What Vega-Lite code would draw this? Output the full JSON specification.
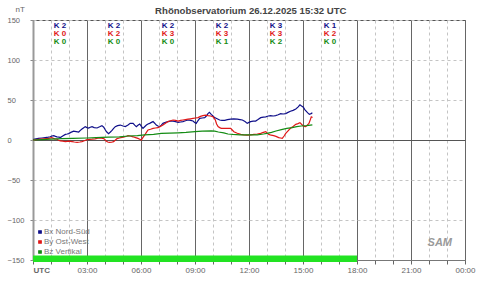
{
  "$schema": "https://vega.github.io/schema/vega-lite/v6.json",
  "width": 432,
  "height": 240,
  "autosize": {"type": "none"},
  "padding": {"left": 33, "top": 20, "right": 15, "bottom": 21},
  "background": "white",
  "config": {"font": "Liberation Sans", "view": {"stroke": "#555", "strokeWidth": 1}},
  "datasets": {
    "coverage": [{"from": 0, "to": 18}],
    "kindex": [
      {"h": 1.5, "series": "Bx Nord-Süd", "label": "K 2"},
      {"h": 1.5, "series": "By Ost-West", "label": "K 0"},
      {"h": 1.5, "series": "Bz Vertikal", "label": "K 0"},
      {"h": 4.5, "series": "Bx Nord-Süd", "label": "K 2"},
      {"h": 4.5, "series": "By Ost-West", "label": "K 2"},
      {"h": 4.5, "series": "Bz Vertikal", "label": "K 0"},
      {"h": 7.5, "series": "Bx Nord-Süd", "label": "K 2"},
      {"h": 7.5, "series": "By Ost-West", "label": "K 3"},
      {"h": 7.5, "series": "Bz Vertikal", "label": "K 0"},
      {"h": 10.5, "series": "Bx Nord-Süd", "label": "K 2"},
      {"h": 10.5, "series": "By Ost-West", "label": "K 3"},
      {"h": 10.5, "series": "Bz Vertikal", "label": "K 1"},
      {"h": 13.5, "series": "Bx Nord-Süd", "label": "K 3"},
      {"h": 13.5, "series": "By Ost-West", "label": "K 3"},
      {"h": 13.5, "series": "Bz Vertikal", "label": "K 2"},
      {"h": 16.5, "series": "Bx Nord-Süd", "label": "K 1"},
      {"h": 16.5, "series": "By Ost-West", "label": "K 2"},
      {"h": 16.5, "series": "Bz Vertikal", "label": "K 0"}
    ],
    "bx": [
      {"h":0.0,"v":0.5},{"h":0.1,"v":1.2},{"h":0.3,"v":2},{"h":0.5,"v":2.5},{"h":0.68,"v":3},{"h":0.85,"v":3.5},{"h":0.96,"v":4},{"h":1.05,"v":5},{"h":1.15,"v":5.5},{"h":1.25,"v":4.5},{"h":1.33,"v":4},{"h":1.45,"v":3.5},{"h":1.52,"v":3},{"h":1.65,"v":5},{"h":1.8,"v":7},{"h":1.9,"v":7.5},{"h":1.98,"v":8},{"h":2.1,"v":9.5},{"h":2.26,"v":11},{"h":2.4,"v":10.5},{"h":2.54,"v":10},{"h":2.63,"v":12},{"h":2.72,"v":13.7},{"h":2.8,"v":15},{"h":2.9,"v":16.7},{"h":3.0,"v":15.5},{"h":3.09,"v":15},{"h":3.18,"v":16},{"h":3.28,"v":16.7},{"h":3.4,"v":15.5},{"h":3.56,"v":15},{"h":3.7,"v":16.5},{"h":3.83,"v":18},{"h":3.93,"v":16},{"h":4.02,"v":12.5},{"h":4.1,"v":10},{"h":4.2,"v":8},{"h":4.3,"v":10},{"h":4.39,"v":12},{"h":4.48,"v":14.5},{"h":4.57,"v":16.7},{"h":4.7,"v":18},{"h":4.85,"v":18.7},{"h":5.0,"v":17.5},{"h":5.13,"v":16.7},{"h":5.28,"v":18.7},{"h":5.4,"v":20.8},{"h":5.56,"v":20.8},{"h":5.65,"v":18.5},{"h":5.74,"v":16.7},{"h":5.83,"v":18.5},{"h":5.93,"v":20},{"h":6.02,"v":17},{"h":6.11,"v":14.6},{"h":6.2,"v":16.5},{"h":6.3,"v":18.7},{"h":6.39,"v":20},{"h":6.48,"v":20.8},{"h":6.58,"v":22},{"h":6.67,"v":23},{"h":6.76,"v":21},{"h":6.85,"v":18.7},{"h":6.94,"v":17.5},{"h":7.04,"v":16.7},{"h":7.13,"v":18.5},{"h":7.22,"v":20.8},{"h":7.36,"v":22},{"h":7.5,"v":23},{"h":7.64,"v":23.5},{"h":7.78,"v":23.7},{"h":7.92,"v":23},{"h":8.06,"v":22},{"h":8.2,"v":22.5},{"h":8.33,"v":23},{"h":8.47,"v":24},{"h":8.61,"v":25},{"h":8.75,"v":24.5},{"h":8.89,"v":23.7},{"h":8.98,"v":22},{"h":9.07,"v":20.8},{"h":9.16,"v":24},{"h":9.26,"v":27},{"h":9.4,"v":27.5},{"h":9.54,"v":27.9},{"h":9.63,"v":30},{"h":9.72,"v":33},{"h":9.8,"v":34.5},{"h":9.9,"v":32},{"h":10.0,"v":30},{"h":10.09,"v":28},{"h":10.23,"v":26.5},{"h":10.37,"v":25},{"h":10.5,"v":24.5},{"h":10.65,"v":24.5},{"h":10.8,"v":25.5},{"h":10.98,"v":26},{"h":11.15,"v":26.5},{"h":11.35,"v":26},{"h":11.5,"v":25.5},{"h":11.63,"v":25},{"h":11.78,"v":23},{"h":11.9,"v":20.8},{"h":12.0,"v":22},{"h":12.09,"v":23},{"h":12.23,"v":23.5},{"h":12.37,"v":23.7},{"h":12.5,"v":25.5},{"h":12.65,"v":27.9},{"h":12.8,"v":28.5},{"h":12.93,"v":29},{"h":13.07,"v":30},{"h":13.2,"v":30.4},{"h":13.35,"v":30},{"h":13.48,"v":30.4},{"h":13.62,"v":31.5},{"h":13.76,"v":33},{"h":13.9,"v":32.5},{"h":14.04,"v":33},{"h":14.17,"v":34.5},{"h":14.3,"v":36},{"h":14.45,"v":37},{"h":14.6,"v":38.7},{"h":14.72,"v":41},{"h":14.83,"v":44},{"h":14.92,"v":42.5},{"h":15.02,"v":41},{"h":15.1,"v":38},{"h":15.2,"v":35.4},{"h":15.28,"v":33.5},{"h":15.35,"v":32},{"h":15.45,"v":33},{"h":15.52,"v":34}
    ],
    "by": [
      {"h":0.0,"v":0},{"h":0.2,"v":0.5},{"h":0.4,"v":1},{"h":0.6,"v":1.5},{"h":0.87,"v":2},{"h":1.04,"v":3},{"h":1.2,"v":1.5},{"h":1.33,"v":1},{"h":1.45,"v":-0.5},{"h":1.52,"v":-1.2},{"h":1.65,"v":-1.5},{"h":1.8,"v":-2},{"h":2.0,"v":-1.5},{"h":2.17,"v":-2},{"h":2.3,"v":-2.5},{"h":2.45,"v":-3},{"h":2.6,"v":-2.5},{"h":2.72,"v":-2},{"h":2.85,"v":-1},{"h":3.0,"v":0.5},{"h":3.14,"v":0.8},{"h":3.28,"v":1},{"h":3.45,"v":1.5},{"h":3.65,"v":2.5},{"h":3.8,"v":2.2},{"h":3.93,"v":1.7},{"h":4.0,"v":0.5},{"h":4.06,"v":-1.2},{"h":4.15,"v":-2.5},{"h":4.24,"v":-3},{"h":4.36,"v":-2.8},{"h":4.48,"v":-2},{"h":4.58,"v":0},{"h":4.67,"v":1.7},{"h":4.8,"v":2.5},{"h":4.94,"v":3.3},{"h":5.07,"v":4},{"h":5.2,"v":4.7},{"h":5.28,"v":5.5},{"h":5.4,"v":5},{"h":5.56,"v":4},{"h":5.7,"v":3},{"h":5.83,"v":2},{"h":5.93,"v":1},{"h":6.02,"v":0},{"h":6.1,"v":3},{"h":6.2,"v":6},{"h":6.3,"v":9.5},{"h":6.39,"v":12.5},{"h":6.53,"v":13.5},{"h":6.67,"v":14.6},{"h":6.8,"v":15},{"h":6.94,"v":15.4},{"h":7.08,"v":17},{"h":7.22,"v":18.7},{"h":7.36,"v":21},{"h":7.5,"v":23},{"h":7.64,"v":24},{"h":7.78,"v":25},{"h":7.92,"v":24.5},{"h":8.06,"v":23.7},{"h":8.2,"v":24.5},{"h":8.33,"v":25},{"h":8.47,"v":25.5},{"h":8.61,"v":26},{"h":8.75,"v":26.5},{"h":8.89,"v":27},{"h":9.03,"v":27.5},{"h":9.17,"v":28},{"h":9.3,"v":29.5},{"h":9.44,"v":30.4},{"h":9.58,"v":31},{"h":9.72,"v":30.4},{"h":9.86,"v":30},{"h":10.0,"v":29},{"h":10.07,"v":27},{"h":10.13,"v":25},{"h":10.2,"v":20},{"h":10.28,"v":16.7},{"h":10.37,"v":15.5},{"h":10.46,"v":14.6},{"h":10.6,"v":14.6},{"h":10.74,"v":14.6},{"h":10.86,"v":14.6},{"h":10.98,"v":14.6},{"h":11.07,"v":12.5},{"h":11.16,"v":10.4},{"h":11.35,"v":8.5},{"h":11.54,"v":7},{"h":11.7,"v":6.5},{"h":11.9,"v":6},{"h":12.1,"v":6.5},{"h":12.28,"v":7},{"h":12.46,"v":7.5},{"h":12.65,"v":8.3},{"h":12.8,"v":9.5},{"h":12.93,"v":10.4},{"h":13.02,"v":8.5},{"h":13.1,"v":7},{"h":13.23,"v":6},{"h":13.37,"v":5.4},{"h":13.5,"v":4.5},{"h":13.65,"v":3},{"h":13.75,"v":2.5},{"h":13.85,"v":2},{"h":13.95,"v":5},{"h":14.04,"v":8.3},{"h":14.17,"v":11.5},{"h":14.3,"v":14.6},{"h":14.45,"v":17},{"h":14.6,"v":19.6},{"h":14.72,"v":20.5},{"h":14.83,"v":21.7},{"h":14.96,"v":18.7},{"h":15.06,"v":17},{"h":15.15,"v":16.7},{"h":15.25,"v":19},{"h":15.33,"v":20.8},{"h":15.4,"v":25},{"h":15.46,"v":29},{"h":15.53,"v":28}
    ],
    "bz": [
      {"h":0,"v":0},{"h":0.5,"v":0.5},{"h":1.0,"v":1},{"h":1.6,"v":1.7},{"h":2.2,"v":2},{"h":3.0,"v":2.5},{"h":3.5,"v":3},{"h":4.2,"v":3.5},{"h":4.8,"v":4},{"h":5.3,"v":5},{"h":5.8,"v":5.5},{"h":6.2,"v":6.5},{"h":6.7,"v":7},{"h":7.13,"v":8.3},{"h":7.6,"v":8.7},{"h":8.06,"v":9},{"h":8.5,"v":9.5},{"h":9.0,"v":10.4},{"h":9.4,"v":11},{"h":9.9,"v":11.5},{"h":10.1,"v":11},{"h":10.3,"v":10},{"h":10.6,"v":9},{"h":10.83,"v":7.5},{"h":11.1,"v":7},{"h":11.5,"v":6.5},{"h":12.0,"v":6.5},{"h":12.46,"v":6.5},{"h":12.8,"v":7.5},{"h":13.0,"v":8.3},{"h":13.25,"v":9.5},{"h":13.5,"v":11.3},{"h":13.8,"v":13},{"h":14.1,"v":14.6},{"h":14.4,"v":15.5},{"h":14.65,"v":16.7},{"h":14.9,"v":17.5},{"h":15.2,"v":18},{"h":15.52,"v":19}
    ]
  },
  "layer": [
    {
      "data": {"name": "coverage"},
      "mark": {"type": "rect", "color": "#22e322", "clip": false},
      "encoding": {
        "x": {
          "field": "from", "type": "quantitative",
          "scale": {"domain": [0, 24], "nice": false},
          "axis": {
            "values": [0,1,2,3,4,5,6,7,8,9,10,11,12,13,14,15,16,17,18,19,20,21,22,23,24],
            "tickCount": 30,
            "title": null,
            "labelExpr": "datum.value == 0 ? 'UTC' : (datum.value % 3 == 0 ? (datum.value == 24 ? '00' : (datum.value < 10 ? '0' : '') + datum.value) + ':00' : '')",
            "labelFontSize": 8,
            "labelColor": "#666",
            "labelFontWeight": {"condition": {"test": "datum.value == 0", "value": "bold"}, "value": "normal"},
            "labelAlign": {"condition": {"test": "datum.value == 0", "value": "left"}, "value": "center"},
            "labelFlush": false,
            "labelBound": false,
            "labelOverlap": false,
            "labelPadding": 2,
            "tickSize": 4,
            "tickColor": "#666",
            "domainColor": "#777",
            "grid": true,
            "gridColor": {"condition": {"test": "datum.value % 3 == 0", "value": "#666"}, "value": "#c4c4c4"},
            "gridDash": {"condition": {"test": "datum.value % 3 == 0", "value": []}, "value": [3, 3]}
          }
        },
        "x2": {"field": "to"},
        "y": {
          "datum": -144.5, "type": "quantitative",
          "scale": {"domain": [-150, 150], "nice": false},
          "axis": {
            "values": [-150, -100, -50, 0, 50, 100, 150],
            "tickCount": 10,
            "title": "nT",
            "titleAngle": 0,
            "titleX": -18,
            "titleY": -9,
            "titleAlign": "left",
            "titleBaseline": "alphabetic",
            "titleFontSize": 8,
            "titleFontWeight": "normal",
            "titleColor": "#666",
            "labelFontSize": 7.5,
            "labelColor": "#666",
            "labelAlign": "left",
            "labelPadding": 23,
            "labelBound": false,
            "labelFlush": false,
            "labelOverlap": false,
            "tickSize": 3,
            "tickColor": "#888",
            "domainColor": "#999",
            "domainWidth": 2,
            "grid": true,
            "gridColor": {"condition": {"test": "datum.value == 0", "value": "#555"}, "value": "#c4c4c4"},
            "gridDash": {"condition": {"test": "datum.value == 0", "value": []}, "value": [3, 3]}
          }
        },
        "y2": {"datum": -152.5}
      }
    },
    {
      "data": {"name": "bx"},
      "mark": {"type": "line", "strokeWidth": 1.2},
      "encoding": {
        "x": {"field": "h", "type": "quantitative"},
        "y": {"field": "v", "type": "quantitative"},
        "color": {
          "datum": "Bx Nord-Süd",
          "type": "nominal",
          "scale": {"domain": ["Bx Nord-Süd", "By Ost-West", "Bz Vertikal"], "range": ["#10108a", "#e01818", "#148c14"]},
          "legend": {"orient": "none", "legendX": 3, "legendY": 208, "title": null, "symbolType": "square", "symbolSize": 5, "symbolStrokeWidth": 1.5, "labelFontSize": 8, "labelColor": "#777", "labelOffset": 0, "rowPadding": 0, "padding": 0}
        }
      }
    },
    {
      "data": {"name": "by"},
      "mark": {"type": "line", "strokeWidth": 1.2},
      "encoding": {
        "x": {"field": "h", "type": "quantitative"},
        "y": {"field": "v", "type": "quantitative"},
        "color": {"datum": "By Ost-West", "type": "nominal"}
      }
    },
    {
      "data": {"name": "bz"},
      "mark": {"type": "line", "strokeWidth": 1.2},
      "encoding": {
        "x": {"field": "h", "type": "quantitative"},
        "y": {"field": "v", "type": "quantitative"},
        "color": {"datum": "Bz Vertikal", "type": "nominal"}
      }
    },
    {
      "data": {"name": "kindex"},
      "transform": [{"filter": "datum.series == 'Bx Nord-Süd'"}],
      "mark": {"type": "text", "fontSize": 8, "fontWeight": "bold", "baseline": "middle", "align": "center", "dy": 6},
      "encoding": {
        "x": {"field": "h", "type": "quantitative"},
        "y": {"datum": 150, "type": "quantitative"},
        "text": {"field": "label"},
        "color": {"field": "series", "type": "nominal", "title": null}
      }
    },
    {
      "data": {"name": "kindex"},
      "transform": [{"filter": "datum.series == 'By Ost-West'"}],
      "mark": {"type": "text", "fontSize": 8, "fontWeight": "bold", "baseline": "middle", "align": "center", "dy": 13.7},
      "encoding": {
        "x": {"field": "h", "type": "quantitative"},
        "y": {"datum": 150, "type": "quantitative"},
        "text": {"field": "label"},
        "color": {"field": "series", "type": "nominal", "title": null}
      }
    },
    {
      "data": {"name": "kindex"},
      "transform": [{"filter": "datum.series == 'Bz Vertikal'"}],
      "mark": {"type": "text", "fontSize": 8, "fontWeight": "bold", "baseline": "middle", "align": "center", "dy": 21.5},
      "encoding": {
        "x": {"field": "h", "type": "quantitative"},
        "y": {"datum": 150, "type": "quantitative"},
        "text": {"field": "label"},
        "color": {"field": "series", "type": "nominal", "title": null}
      }
    },
    {
      "data": {"values": [{}]},
      "mark": {"type": "text", "text": "Rhönobservatorium 26.12.2025 15:32 UTC", "fontSize": 9.6, "fontWeight": "bold", "fill": "#444", "align": "center", "baseline": "alphabetic", "dy": -5.7},
      "encoding": {
        "x": {"datum": 12.1, "type": "quantitative"},
        "y": {"datum": 150, "type": "quantitative"}
      }
    },
    {
      "data": {"values": [{}]},
      "mark": {"type": "text", "text": "SAM", "fontSize": 11, "fontStyle": "italic", "fontWeight": "bold", "fill": "#9a9a9a", "align": "center", "baseline": "middle"},
      "encoding": {
        "x": {"datum": 22.6, "type": "quantitative"},
        "y": {"datum": -129, "type": "quantitative"}
      }
    }
  ]
}
